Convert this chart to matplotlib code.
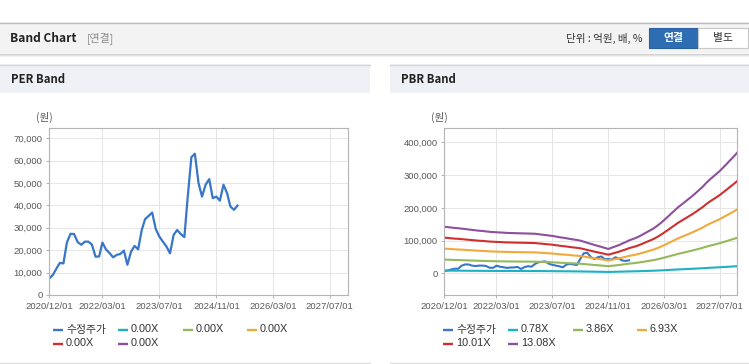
import matplotlib
matplotlib.use('Agg')
import matplotlib.pyplot as plt
from matplotlib.patches import Rectangle
from matplotlib.lines import Line2D
import pandas as pd

W, H = 749, 364

# ---------------- data ----------------
start_month = '2020-12-01'
price = [7400, 9000, 11900, 14300, 14100, 23500, 27300, 27200, 23600, 22400,
         23800, 23800, 22500, 17100, 17200, 23400, 20300, 18700, 16800, 17900,
         18300, 19800, 13500, 19300, 21900, 20400, 29000, 33800, 35300, 36800,
         29400, 26100, 23800, 21600, 18600, 26800, 29000, 27200, 25800, 44000,
         61500, 63000, 50000, 43900, 49200, 51700, 43200, 43900, 42100, 49200,
         45400, 39500, 38000, 39900]
bps = [10900, 10800, 10700, 10600, 10550, 10450, 10350, 10250, 10150, 10050,
       9950, 9900, 9800, 9700, 9650, 9600, 9550, 9500, 9450, 9420,
       9400, 9370, 9350, 9330, 9300, 9280, 9250, 9150, 9050, 8950,
       8850, 8750, 8600, 8450, 8330, 8200, 8050, 7920, 7800, 7650,
       7400, 7150, 6900, 6650, 6420, 6180, 5950, 5700, 6000, 6300,
       6600, 6950, 7300, 7700, 8000, 8300, 8700, 9150, 9600, 10050,
       10500, 11100, 11750, 12400, 13150, 13900, 14650, 15400, 16050, 16700,
       17350, 18000, 18700, 19450, 20200, 21000, 21800, 22500, 23200, 23900,
       24750, 25600, 26450, 27300, 28200]
pbr_multiples = [0.78, 3.86, 6.93, 10.01, 13.08]
per_labels = ['수정주가', '0.00X', '0.00X', '0.00X', '0.00X', '0.00X']
pbr_labels = ['수정주가'] + ['%.2fX' % m for m in pbr_multiples]
tick_labels = ['2020/12/01', '2022/03/01', '2023/07/01', '2024/11/01',
               '2026/03/01', '2027/07/01']
per_yticks = [0, 10000, 20000, 30000, 40000, 50000, 60000, 70000]
pbr_yticks = [0, 100000, 200000, 300000, 400000]
colors = ['#3776c8', '#1eb0c4', '#95b95a', '#f1a93c', '#cf2f2f', '#8e4f9e']

price_dates = pd.date_range(start_month, periods=len(price), freq='MS')
band_dates = pd.date_range(start_month, periods=len(bps), freq='MS')

# ---------------- figure ----------------
fig = plt.figure(figsize=(W / 100, H / 100), dpi=100)
fig.patch.set_facecolor('white')

KR = ['Noto Sans CJK KR', 'DejaVu Sans']
LAT = ['Liberation Sans', 'Noto Sans CJK KR', 'DejaVu Sans']


def fx(x):
    return x / W


def fy(y):
    return 1 - y / H


def rect(x0, y0, x1, y1, fc, ec='none', lw=0, z=0):
    fig.add_artist(Rectangle((fx(x0), fy(y1)), (x1 - x0) / W, (y1 - y0) / H,
                             transform=fig.transFigure, facecolor=fc,
                             edgecolor=ec, linewidth=lw, zorder=z))


def hline(x0, x1, y, c, lw=0.75, z=1):
    fig.add_artist(Line2D([fx(x0), fx(x1)], [fy(y), fy(y)],
                          transform=fig.transFigure, color=c, lw=lw, zorder=z))


def txt(x, y, s, **kw):
    fig.text(fx(x), fy(y), s, **kw)


# header bar
rect(0, 22, W, 53, '#f3f3f3')
hline(0, W, 22.5, '#bdbdbd', lw=1.0)
hline(0, W, 53.5, '#cfcfcf', lw=0.9)
hline(0, W, 54.5, '#e2e2e2', lw=0.9)
hline(0, W, 55.5, '#f0f0f0', lw=0.9)
txt(10, 38.5, 'Band Chart', family=KR, fontsize=8.6, fontweight='bold',
    color='#222222', va='center', ha='left')
txt(87, 38.5, '[연결]', family=KR, fontsize=7.8, color='#8a8a8a',
    va='center', ha='left')
txt(642, 38.5, '단위 : 억원, 배, %', family=KR, fontsize=7.6, color='#333333',
    va='center', ha='right')
rect(649, 28, 698, 48, '#2f6db3', ec='#2a62a3', lw=0.8, z=2)
txt(673.5, 38.5, '연결', family=KR, fontsize=7.8, fontweight='bold',
    color='white', va='center', ha='center', zorder=3)
rect(698, 28, 748, 48, '#ffffff', ec='#c8c8c8', lw=0.8, z=2)
txt(723, 38.5, '별도', family=KR, fontsize=7.8, color='#333333',
    va='center', ha='center', zorder=3)

# panel headers
for (x0, x1, title) in [(0, 370, 'PER Band'), (390, W, 'PBR Band')]:
    rect(x0, 64, x1, 93, '#eef1f6')
    hline(x0, x1, 64.5, '#d6d6d6', lw=1.0)
    txt(x0 + 11, 79.5, title, family=KR, fontsize=8.2, fontweight='bold',
        color='#222222', va='center', ha='left')
    hline(x0, x1, 362.5, '#dedede', lw=1.0)


def setup_axis(ax, yticks, ylim):
    ax.set_xlim(pd.Timestamp(start_month), pd.Timestamp('2027-12-01'))
    ax.set_ylim(*ylim)
    ax.set_xticks(pd.to_datetime(tick_labels, format='%Y/%m/%d'))
    ax.set_xticklabels(tick_labels)
    ax.set_yticks(yticks)
    ax.set_yticklabels(['{:,}'.format(v) for v in yticks])
    ax.grid(True, color='#e6e6e6', lw=0.75)
    ax.set_axisbelow(True)
    for s in ax.spines.values():
        s.set_color('#b4b4b4')
        s.set_linewidth(0.8)
    ax.tick_params(axis='both', length=2.2, width=0.75, color='#b4b4b4',
                   labelsize=6.8, labelcolor='#595959')
    ax.tick_params(axis='x', pad=3.0)
    ax.tick_params(axis='y', pad=2.6)
    for lab in ax.get_xticklabels() + ax.get_yticklabels():
        lab.set_family(LAT)


# PER chart
ax1 = fig.add_axes([fx(49.3), fy(295), (347.7 - 49.3) / W, (295 - 128) / H])
setup_axis(ax1, per_yticks, (0, 74500))
ax1.plot(price_dates, price, color=colors[0], lw=1.6, solid_joinstyle='round')
txt(44.5, 117.5, '(원)', family=KR, fontsize=7.6, color='#555555',
    va='center', ha='center')

# PBR chart
ax2 = fig.add_axes([fx(444.3), fy(295), (737.3 - 444.3) / W, (295 - 128.3) / H])
setup_axis(ax2, pbr_yticks, (-66000, 443000))
ax2.plot(price_dates, price, color=colors[0], lw=1.5, solid_joinstyle='round')
for i, m in enumerate(pbr_multiples):
    ax2.plot(band_dates, [m * b for b in bps], color=colors[i + 1], lw=1.5,
             solid_joinstyle='round')
txt(439.5, 117.5, '(원)', family=KR, fontsize=7.6, color='#555555',
    va='center', ha='center')


# legends
def legend(x0, labels):
    cols = [0, 65, 130, 194]
    rows = [329.5, 343.5]
    for i, lab in enumerate(labels):
        r, c = divmod(i, 4)
        x = x0 + cols[c]
        y = rows[r]
        fig.add_artist(Line2D([fx(x), fx(x + 10)], [fy(y), fy(y)],
                              transform=fig.transFigure, color=colors[i],
                              lw=1.7, solid_capstyle='butt'))
        txt(x + 13, y, lab, family=LAT, fontsize=7.8, color='#333333',
            va='center', ha='left')


legend(53, per_labels)
legend(443, pbr_labels)

fig.savefig('out.png', dpi=100, facecolor='white')
